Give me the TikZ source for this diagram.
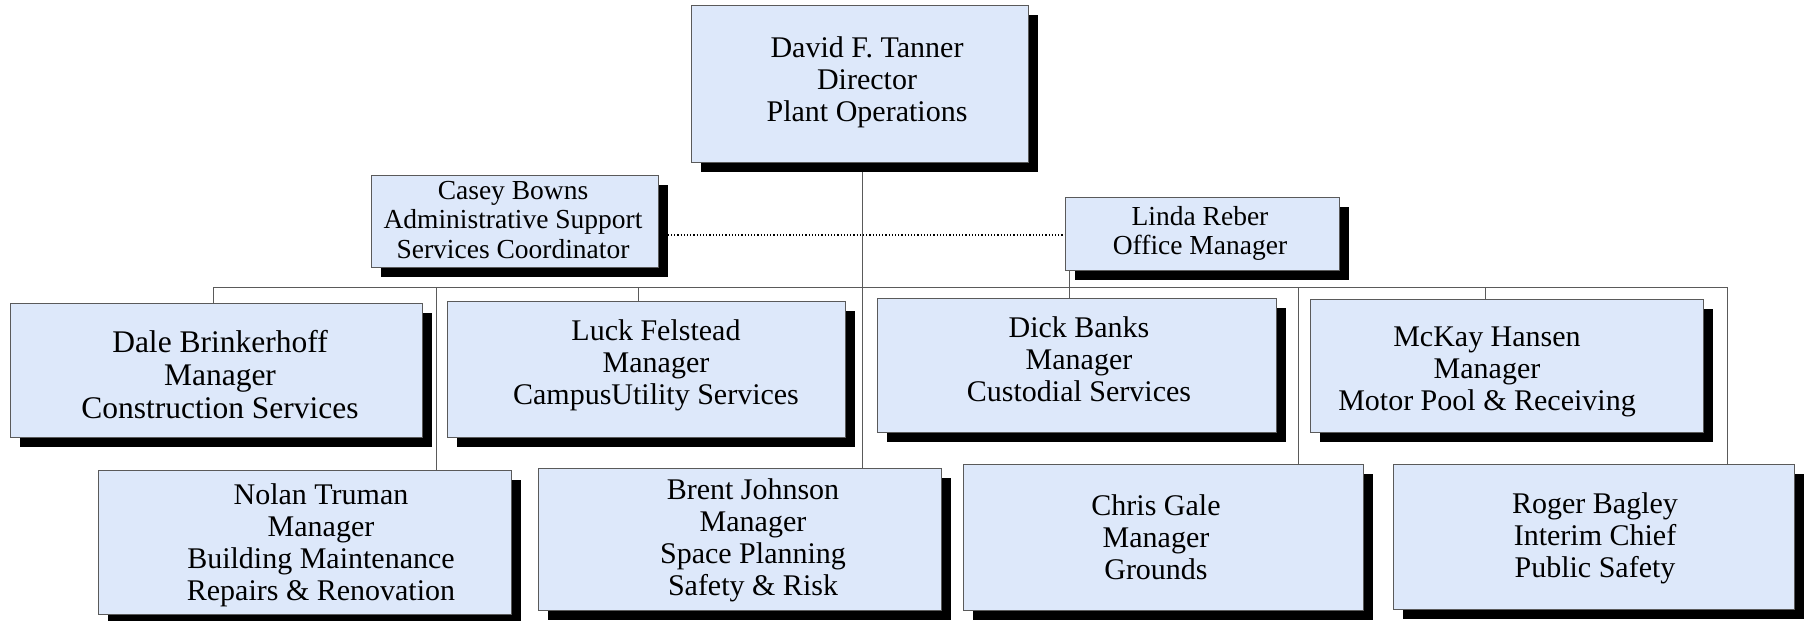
\documentclass[tikz,border=0pt]{standalone}
\usepackage{fontspec}
\setmainfont{Liberation Serif}
\usetikzlibrary{shadows}
\definecolor{boxfill}{RGB}{221,232,250}
\definecolor{edgegray}{RGB}{90,90,90}
\begin{document}
\begin{tikzpicture}[x=1pt,y=-1pt,
  box/.style={draw=edgegray, line width=1pt, fill=boxfill, inner sep=0pt, outer sep=0pt,
    drop shadow={shadow xshift=10pt, shadow yshift=-10pt, fill=black, opacity=1}},
  txt/.style={align=center, inner sep=0pt, font=\fontsize{30}{32}\selectfont},
  btxt/.style={align=center, inner sep=0pt, font=\fontsize{31.5}{33}\selectfont},
  stxt/.style={align=center, inner sep=0pt, font=\fontsize{27.5}{29.5}\selectfont},
  link/.style={draw=edgegray, line width=1pt},
  dotline/.style={draw=black, line width=1.2pt, dotted}]
\useasboundingbox (0,0) rectangle (1810,621);

% bus coordinates
\coordinate (tx) at (862,0);
\coordinate (busL) at (213,287);
\coordinate (busR) at (1727,287);
\coordinate (xNolan) at (436,287);
\coordinate (xLuck) at (638,287);
\coordinate (xLinda) at (1069,287);
\coordinate (xChris) at (1298,287);
\coordinate (xMcKay) at (1485,287);

% invisible placeholders for the boxes, so connectors can be drawn first
\path (859.5,83.5) node[minimum width=337pt, minimum height=157pt, inner sep=0pt] (tannerB) {};
\path (514.5,221) node[minimum width=287pt, minimum height=92pt, inner sep=0pt] (caseyB) {};
\path (1202,233.5) node[minimum width=274pt, minimum height=73pt, inner sep=0pt] (lindaB) {};
\path (216,370) node[minimum width=412pt, minimum height=134pt, inner sep=0pt] (daleB) {};
\path (646,369) node[minimum width=398pt, minimum height=136pt, inner sep=0pt] (luckB) {};
\path (1076.5,365) node[minimum width=399pt, minimum height=134pt, inner sep=0pt] (dickB) {};
\path (1506.5,365.5) node[minimum width=393pt, minimum height=133pt, inner sep=0pt] (mckayB) {};
\path (304.5,542) node[minimum width=413pt, minimum height=144pt, inner sep=0pt] (nolanB) {};
\path (739.5,539) node[minimum width=403pt, minimum height=142pt, inner sep=0pt] (brentB) {};
\path (1163,537) node[minimum width=400pt, minimum height=146pt, inner sep=0pt] (chrisB) {};
\path (1593.5,536.5) node[minimum width=401pt, minimum height=145pt, inner sep=0pt] (rogerB) {};

\draw[link] (tannerB.south -| tx) -- (brentB.north -| tx);
\draw[link] (busL) -- (busR);
\draw[link] (busL) -- (daleB.north -| busL);
\draw[link] (xNolan) -- (nolanB.north -| xNolan);
\draw[link] (xLuck) -- (luckB.north -| xLuck);
\draw[link] (lindaB.south -| xLinda) -- (dickB.north -| xLinda);
\draw[link] (xChris) -- (chrisB.north -| xChris);
\draw[link] (xMcKay) -- (mckayB.north -| xMcKay);
\draw[link] (busR) -- (rogerB.north -| busR);
\draw[dotline] (caseyB.east |- 0,235) -- (lindaB.west |- 0,235);

% visible boxes
\node[box, minimum width=337pt, minimum height=157pt] (tanner) at (tannerB) {};
\node[box, minimum width=287pt, minimum height=92pt] (casey) at (caseyB) {};
\node[box, minimum width=274pt, minimum height=73pt] (linda) at (lindaB) {};
\node[box, minimum width=412pt, minimum height=134pt] (dale) at (daleB) {};
\node[box, minimum width=398pt, minimum height=136pt] (luck) at (luckB) {};
\node[box, minimum width=399pt, minimum height=134pt] (dick) at (dickB) {};
\node[box, minimum width=393pt, minimum height=133pt] (mckay) at (mckayB) {};
\node[box, minimum width=413pt, minimum height=144pt] (nolan) at (nolanB) {};
\node[box, minimum width=403pt, minimum height=142pt] (brent) at (brentB) {};
\node[box, minimum width=400pt, minimum height=146pt] (chris) at (chrisB) {};
\node[box, minimum width=401pt, minimum height=145pt] (roger) at (rogerB) {};

% texts
\node[txt] (tannerT) at (867,82.5) {David F. Tanner\\Director\\Plant Operations};
\node[stxt] (caseyT) at (513,220) {Casey Bowns\\Administrative Support\\Services Coordinator};
\node[stxt] (lindaT) at (1200,233.5) {Linda Reber\\Office Manager};
\node[btxt] (daleT) at (220,375) {Dale Brinkerhoff\\Manager\\Construction Services};
\node[txt] (luckT) at (656,365) {Luck Felstead\\Manager\\CampusUtility Services};
\node[txt] (dickT) at (1079,359) {Dick Banks\\Manager\\Custodial Services};
\node[txt] (mckayT) at (1487,372) {McKay Hansen\\Manager\\Motor Pool \& Receiving};
\node[txt] (nolanT) at (321,545.5) {Nolan Truman\\Manager\\Building Maintenance\\Repairs \& Renovation};
\node[txt] (brentT) at (753,540.5) {Brent Johnson\\Manager\\Space Planning\\Safety \& Risk};
\node[txt] (chrisT) at (1156,537) {Chris Gale\\Manager\\Grounds};
\node[txt] (rogerT) at (1595,538.5) {Roger Bagley\\Interim Chief\\Public Safety};
\end{tikzpicture}
\end{document}
